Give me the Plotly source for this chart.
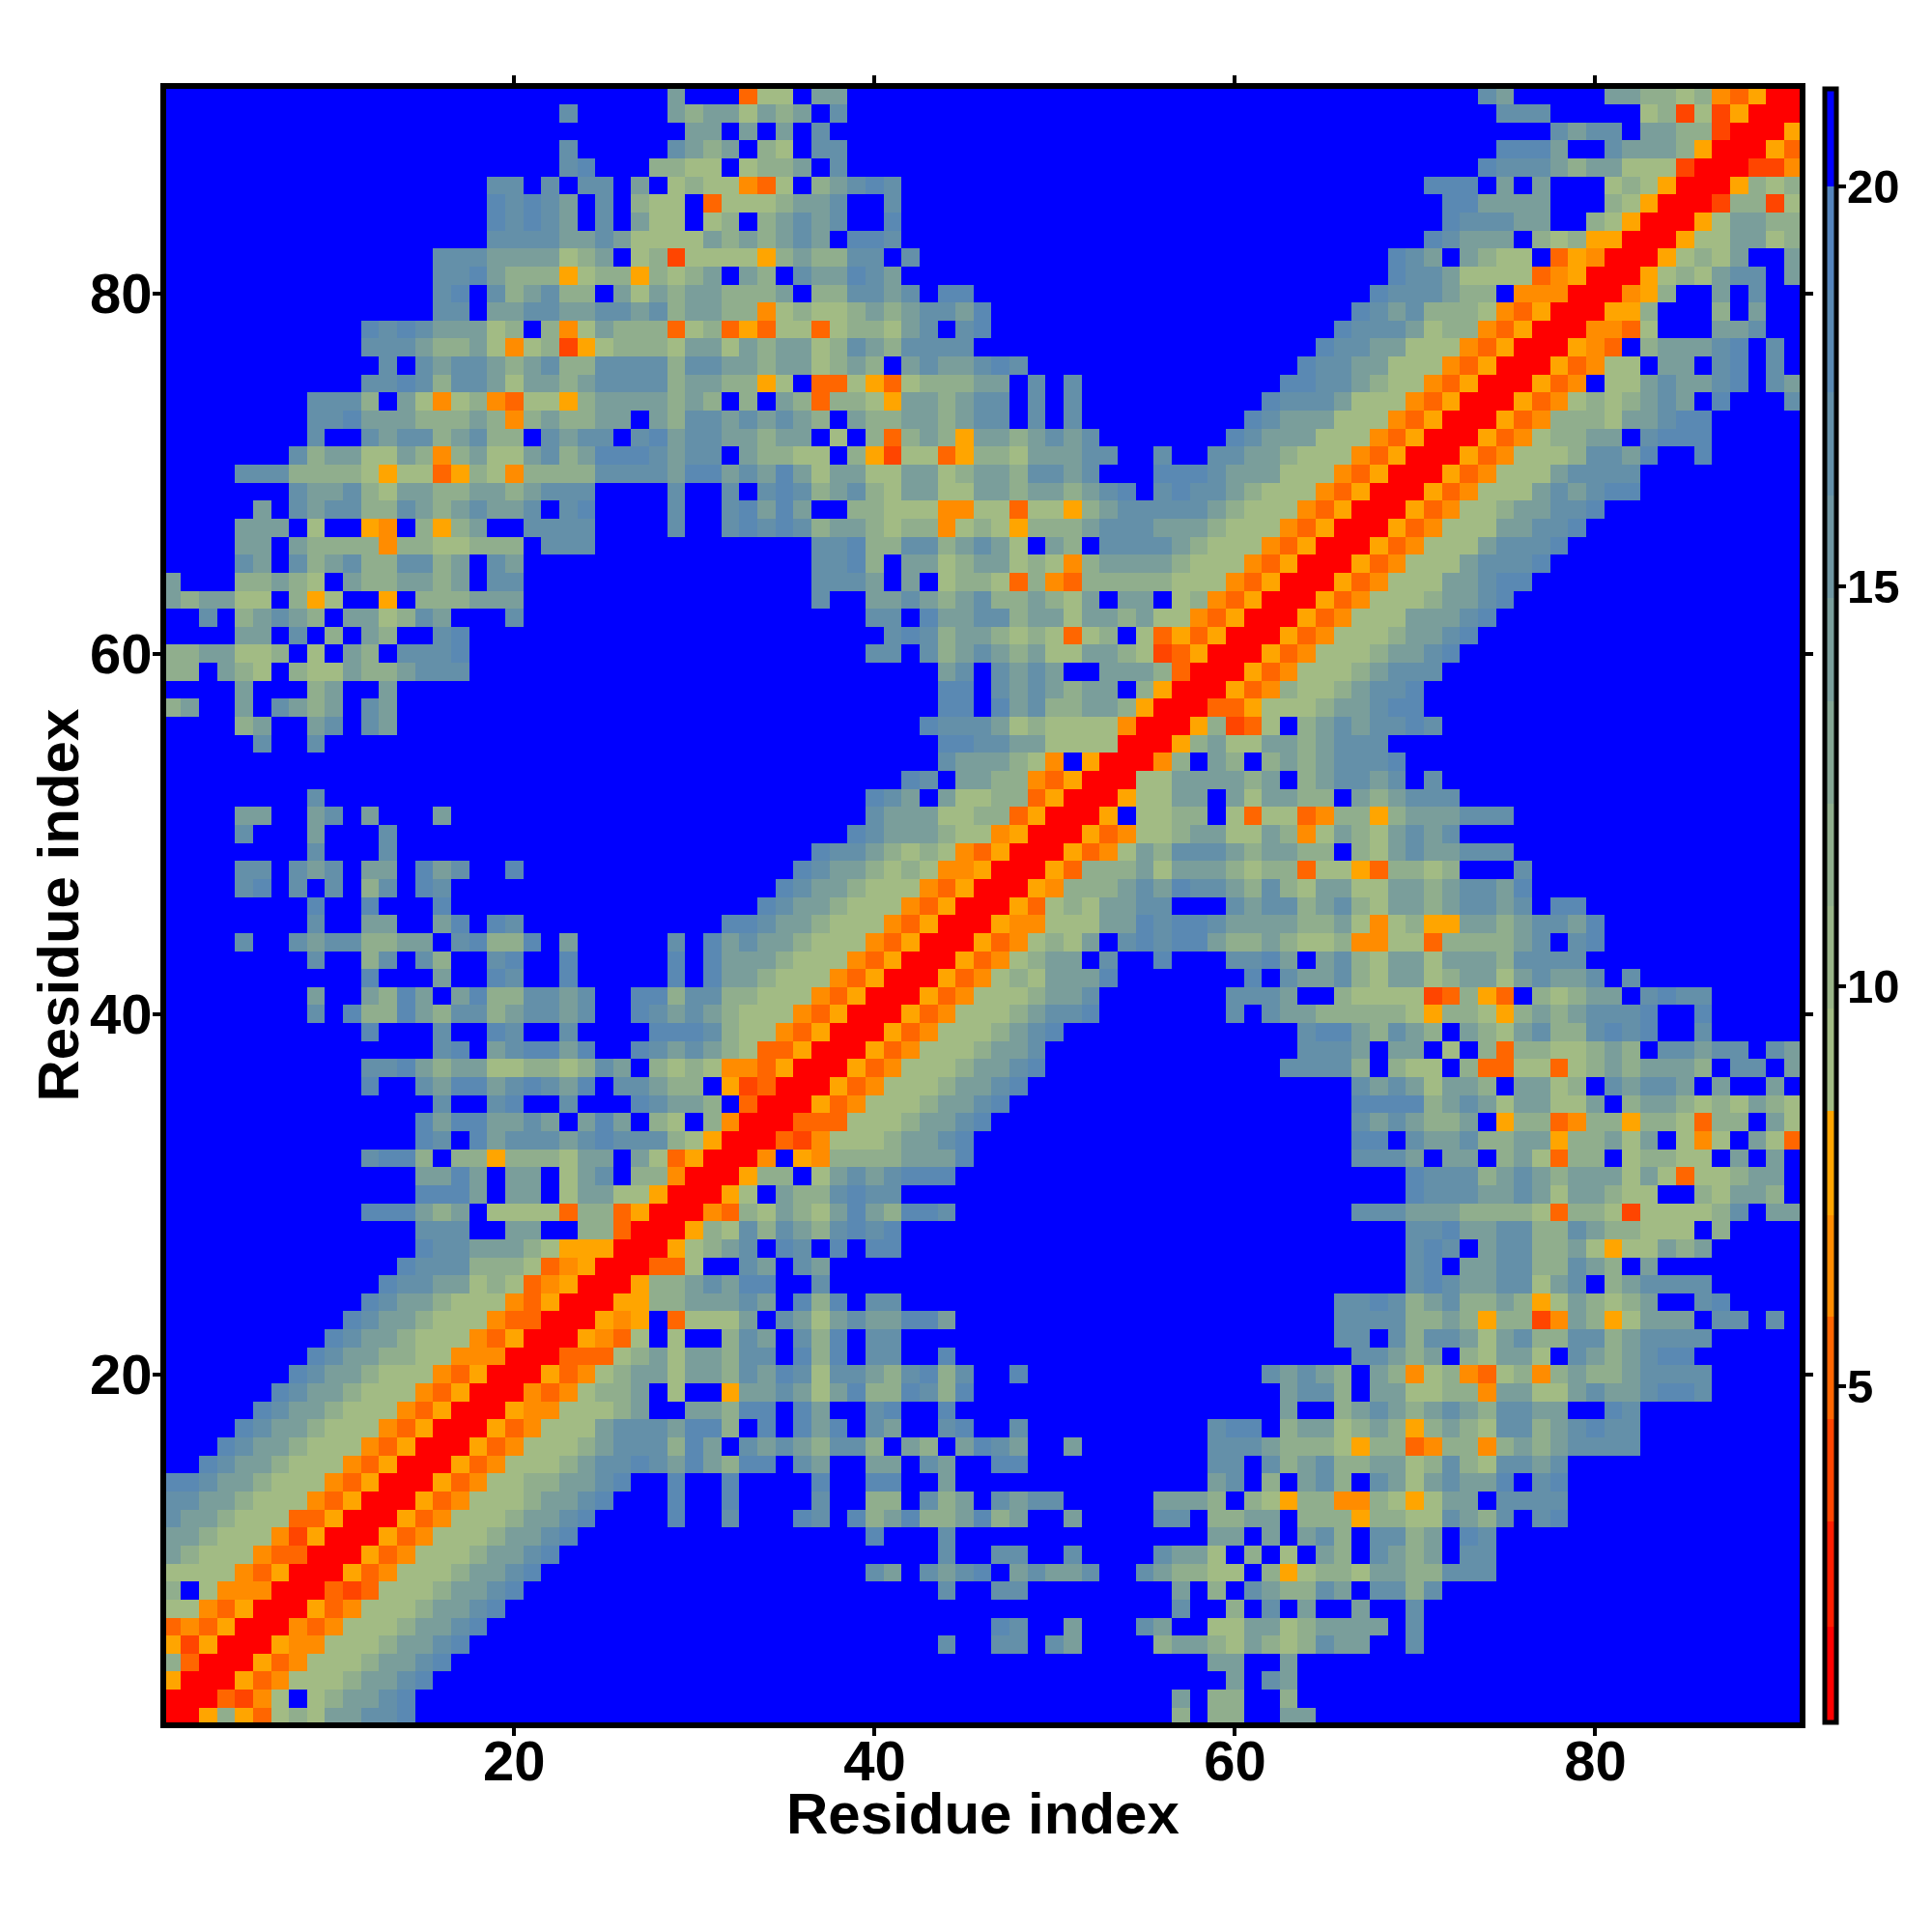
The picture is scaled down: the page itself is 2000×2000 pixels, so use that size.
import plotly.graph_objects as go

# Residue count and axis labels
N_RESIDUES = 91
AXIS_TICKS = [20, 40, 60, 80]
COLORBAR_TICKS = [5, 10, 15, 20]
AXIS_TITLE = "Residue index"
X_RANGE = [0.68, 91.34]
Y_RANGE = [0.69, 91.36]

# Distance read for each colour class seen in the picture
LEVEL_VALUES = {
    "R": 1.5, "a": 4.0, "b": 5.2, "c": 6.5, "d": 7.8,
    "5": 9.1, "4": 11.7, "3": 14.3, "2": 16.8, "1": 18.3, ".": 21.0,
}

# Colour bands of the colour bar: (upper limit, colour)
BANDS = [
    (2.0, "#FF0000"), (3.31, "#FF1E00"), (4.59, "#FF4500"), (5.87, "#FF6600"),
    (7.14, "#FF8C00"), (8.44, "#FFA500"),
    (9.72, "#A2BB84"), (11.0, "#99B488"), (12.29, "#90AE8D"), (13.57, "#85A694"),
    (14.86, "#7A9E9B"), (16.14, "#6F96A2"), (17.43, "#6490A9"), (18.71, "#5A89B3"),
    (20.0, "#5484BD"), (21.22, "#0000FF"),
]
Z_MIN = 0.8
Z_MAX = 21.22

# Readings, row by row: y -> (first x, classes from x on). Spaces only group characters.
R91 = [(29, "3"), (33, "b55.33"), (74, "23"), (81, "334454cbdRR")]
R90 = [(23, "2"), (29, "34335343.2"), (75, "222"), (83, "54a5adRR")]
R89 = [(30, "33.3.3.2"), (78, "2322.3344aRR")]
R88 = [(23, "2"), (29, "2343.45.22"), (75, "1113..23334dRR")]
R87 = [(23, "21"), (28, "4455.5443.2"), (74, "12223433555aRR")]
R86 = [(19, "22.2.22.3.5455"), (33, "cb5.43212"), (71, "111.3.3...545dRR")]
R85 = [(19, "12123.2.455.b5"), (33, "554332..2"), (72, "113333...45dRR")]
R84 = [(19, "12123.2.355.54"), (33, ".43232..1"), (72, "122233..45dRR")]
R83 = [(19, "22223323555534"), (33, "34323.112"), (71, "12333.454ddRR")]
R82 = [(16, "2223333543.54a555"), (33, "5d434422.2"), (69, "123.3455.bdcRR")]
R81 = [(16, "2213444d544d4543."), (33, "34.233123"), (69, "12235555bcdRR")]
R80 = [(16, "21.243244.3534334"), (33, "443.442232.11"), (68, "1222344.cccRR")]
R79 = [(16, "22.33223322324334"), (33, "4c545543432231"), (67, "12324445cbdRR")]
R78 = [(12, "121233354.4c53444b54b"), (33, "db55b544532.21"), (66, "12223544cbdRR")]
R77 = [(12, "22234435c54ad54445335"), (33, "3433542342222"), (65, "12233555cbdRR")]
R76 = [(13, "2.232234324422224223"), (33, "34335434.3233212"), (64, "12233555cbdRR")]
R75 = [(12, "221242235334322224334"), (33, "4d5.bb5db544433.2.2"), (63, "11223455cbdRR")]
R74 = [(9, "2224.35c54cb55d43333434."), (33, "4.34b445d334322.2.2"), (62, "12223555cbdRR")]
R73 = [(9, "22133344434c434433.34223"), (33, "23234.344334322.2.2"), (61, "12333555cbdRR")]
R72 = [(9, "2..232243244.2322.213223"), (33, "3433.5.4b434d3343232"), (60, "12333555cbdRR")]
R71 = [(8, "24335534c435532431112322."), (33, "34455.4da55bd44533322..2..22334555cbdRR")]
R70 = [(5, "22244445d55bd45c444422223113"), (33, "23135335533543342232...1112333555cbdRR")]
R69 = [(8, "23324533443343222....2..2"), (33, ".212432453355334334321.212234555cbdRR")]
R68 = [(6, "3.23224423432332.21....2..2"), (33, "1313..44555cc55b55d4 322222 3 4 555 cbdRR")]
R67 = [(5, "333.5..dc.4d43..2222....2..2"), (33, "1212433 45 44 c5 45 d 444 3 222 333 4 555 cbdRR")]
R66 = [(5, "33.34444c4455444.222"), (37, "221 44 22 4 3 2 3 5 . 3 4 . 2222 3 4 555 cbdRR")]
R65 = [(5, "23.2432 44 22 43.23"), (37, "221 4 . 33 54 33 5 4 5 c 4 3333 4 555 cbdRR")]
R64 = [(1, "3...443 45.3 44 33 43 .22"), (37, "222 3 . 3 . 5 44 5 b 4 c b 44444 555 cbdRR")]
R63 = [(1, "3433 55 . 4 d 5 .. d . 444 333"), (37, "2 .. 33 2 3 4 3 2 44 3 4 5 3 . 33 . 5 4 cbdRR")]
R62 = [(3, "2.432 34 . 33 54 23 ... 2"), (40, "22.1 33 22 4 33 5 33 4 3 55 cbdRR")]
R61 = [(5, "33.2.4.34..21"), (41, "212 4 33 4 5 4 5 b 5 4 . 5 b d b d RR")]
R60 = [(1, "4433554.5.34.2221"), (40, "22.2 43 2 3 4 3 55 33 4 5 a b d RR")]
R59 = [(1, "44.345.4553443222"), (44, "32.23 2 3 .. 3 3 3 4 b RR")]
R58 = [(5, "3"), (9, "43"), (13, "3"), (44, "11.2 3 2 3 4 33 . 4 d RR")]
R57 = [(1, "43"), (5, "3.2343.23"), (44, "11.1 3 2 44 33 4 d RR")]
R56 = [(5, "43"), (9, "32"), (12, "23"), (43, "1 222 3 5 4 5555 c RR")]
R55 = [(6, "2"), (9, "2"), (44, "11 22 33 5555 RR")]
R54 = [(44, "2 33 3 4 5 c . d RR")]
R53 = [(42, "12.33 44 cbd RR")]
R52 = [(9, "2"), (40, "123.35544bdRR")]
R51 = [(5, "33"), (9, "32"), (12, "3"), (16, "3"), (40, "233355 4 4 b d RR")]
R50 = [(5, "2"), (9, "3"), (13, "2"), (39, "123334 55cdRR")]
R49 = [(9, "2"), (13, "2"), (37, "1 22 3 4 5 4 5 c b d RR")]
R48 = [(5, "22"), (8, "232"), (12, "33"), (15, "132"), (20, "1"), (36, "1 2 3 3 4 5 4 5 c c d RR")]
R47 = [(5, "21"), (8, "2.2"), (12, "42"), (15, "12"), (35, "1 2 33 4 555 c b d RR")]
R46 = [(9, "1"), (12, "1"), (16, "1"), (34, "1 2 3 3 4 555 c b d RR")]
R45 = [(9, "2"), (12, "33"), (16, "31"), (19, "12"), (32, "1 1 2 3 3 4 555 c b d RR")]
R44 = [(5, "2"), (8, "23224433.21441.3.....2.1 3 2 3 3 4 555 cbdRR")]
R43 = [(9, "2"), (12, "42.24"), (19, "21"), (23, "1"), (29, "1"), (31, "1 333 4 555 c b d RR")]
R42 = [(12, "1"), (16, "3"), (19, "12"), (23, "1"), (29, "1"), (31, "1 3 3 4 555 c b d RR")]
R41 = [(9, "3"), (12, "3413.3144223 2..11 4 22 44 555 cbdRR")]
R40 = [(9, "2"), (11, "1 4 4 1 3 4 2 2 4 3 2 2 3 2"), (27, "1 2 3 2 3 4 555 c b d RR")]
R39 = [(12, "1"), (16, "2"), (19, "12"), (23, "2"), (28, "1 1 1 2 4 5 5 c b d RR")]
R38 = [(16, "21"), (19, "3 2 1 1 3 1"), (27, "1 2 3 2 3 4 5 bb d RR")]
R37 = [(12, "221 3 4 33 55 44 5 4 2 3 . 4 5 4 5 cc b d RR")]
R36 = [(12, "1"), (15, "23 11 3 2 1 2 3 1 . 2 2 3 4 4 . d a b RR")]
R35 = [(16, "2"), (19, "21"), (23, "2"), (27, "1 2 3 3 4 . b RR")]
R34 = [(15, "1 3 1 1 3 3 2 3 . 3 1 3 . 4 5 . 4 c RR")]
R33 = [(15, "1 2 . 1 3 2 2 2 3 2 1 2 2 2 4 5 d RR")]
R32 = [(12, "2 1 1 4 . 4 4 d 4 4 4 5 3 3 . 3 5 b d RR")]
R31 = [(15, "3 3 1 3 . 3 3 . 5 3 2 . 4 4 c RR")]
R30 = [(15, "1 1 1 3 . 3 3 . 5 3 3 5 5 d RR")]
R29 = [(12, "111 3 4 3 . 5555 b 4 4 b d RR")]
R28 = [(15, "222 .. 3 3 .. 4 4 b RR")]
R27 = [(15, "1 2 2 3 3 3 4 5 ddd RR")]
R26 = [(14, "1 2 2 2 4 4 4 5 b c d RR")]
R25 = [(13, "1 2 2 3 3 5 4 5 b c d RR")]
R24 = [(12, "1 2 3 3 4 555 c b d RR")]
R23 = [(11, "1 2 3 3 4 555 c b b RR")]
R22 = [(10, "1 2 3 3 4 555 c b d RR")]
R21 = [(9, "1 2 3 3 4 4 5 5 ccc RR")]
R20 = [(8, "1 2 3 3 4 555 c b d RR")]
R19 = [(7, "1 2 3 3 4 555 c b d RR")]
R18 = [(6, "1 2 3 3 4 555 c b d RR")]
R17 = [(5, "1 2 3 3 4 555 c b d RR")]
R16 = [(4, "1 2 3 3 4 555 c b d RR")]
R15 = [(3, "1 2 3 3 4 555 c b d RR")]
R14 = [(1, "1 1 2 3 3 4 555 c b d RR")]
R13 = [(1, "2 2 3 3 4 555 c b d RR")]
R12 = [(1, "2 3 3 4 555 b b d RR")]
R11 = [(1, "3 3 4 555 c a d RR")]
R10 = [(1, "3 4 555 c b b RR")]
R9 = [(1, "5555 c b d RR")]
R8 = [(1, "4 . 5 c c c RR")]
R7 = [(1, "5 5 c b d RR")]
R6 = [(1, "b c b d RR")]
R5 = [(1, "d a d RR")]
R4 = [(1, "4 b RR")]
R3 = [(1, "d RR")]
R2 = [(1, "RR")]
R1 = [(1, "R")]

READINGS = {y: globals()[f"R{y}"] for y in range(1, N_RESIDUES + 1)}

residues = list(range(1, N_RESIDUES + 1))
z = [[LEVEL_VALUES["."] for _ in residues] for _ in residues]
for y, segments in READINGS.items():
    for start, text in segments:
        for offset, ch in enumerate(text.replace(" ", "")):
            x = start + offset
            if x > N_RESIDUES:
                continue
            z[y - 1][x - 1] = LEVEL_VALUES[ch]
            z[x - 1][y - 1] = LEVEL_VALUES[ch]

colorscale = []
lower = Z_MIN
span = Z_MAX - Z_MIN
for upper, colour in BANDS:
    colorscale.append([(lower - Z_MIN) / span, colour])
    colorscale.append([(upper - Z_MIN) / span, colour])
    lower = upper

FONT = "Liberation Sans"
PLOT_SIZE = 1691

fig = go.Figure(go.Heatmap(
    x=residues, y=residues, z=z, zmin=Z_MIN, zmax=Z_MAX,
    colorscale=colorscale, zsmooth=False, xgap=0, ygap=0, hoverongaps=False,
    colorbar=dict(
        x=1.0153, xanchor="left", xpad=0, xref="paper",
        y=0, yanchor="bottom", ypad=0, yref="paper", len=1, lenmode="fraction",
        thickness=12, thicknessmode="pixels",
        outlinewidth=5, outlinecolor="black", borderwidth=0,
        tickmode="array", tickvals=COLORBAR_TICKS, showticklabels=False,
        ticks="outside", ticklen=8, tickwidth=4, tickcolor="black",
    ),
))

axis_common = dict(
    tickmode="array", tickvals=AXIS_TICKS, ticks="outside", ticklen=8, tickwidth=4,
    tickcolor="black", showline=True, linewidth=6, linecolor="black", mirror="ticks",
    showgrid=False, zeroline=False,
    tickfont=dict(family=FONT, size=58, color="black", weight=700),
)

annotations = [
    dict(
        text=str(v), xref="paper", yref="paper", showarrow=False,
        x=(1910 - 172) / PLOT_SIZE, xanchor="left",
        y=(v - Z_MIN) / (Z_MAX - Z_MIN), yanchor="middle",
        font=dict(family=FONT, size=49, color="black", weight=700),
    )
    for v in COLORBAR_TICKS
]
annotations.append(dict(
    text=AXIS_TITLE, xref="paper", yref="paper", showarrow=False,
    x=0.5, xanchor="center", y=-94 / PLOT_SIZE, yanchor="middle",
    font=dict(family=FONT, size=60, color="black", weight=700),
))
annotations.append(dict(
    text=AXIS_TITLE, xref="paper", yref="paper", showarrow=False, textangle=-90,
    x=(60 - 172) / PLOT_SIZE, xanchor="center", y=0.5, yanchor="middle",
    font=dict(family=FONT, size=60, color="black", weight=700),
))

fig.update_layout(
    width=1992, height=1992, autosize=False,
    margin=dict(l=164, r=137, t=84, b=217, pad=0, autoexpand=False),
    paper_bgcolor="white", plot_bgcolor="white",
    annotations=annotations,
    xaxis=dict(axis_common, range=X_RANGE, ticklabelstandoff=-24),
    yaxis=dict(axis_common, range=Y_RANGE, ticklabelstandoff=-11),
)

fig.write_html("out.html")
